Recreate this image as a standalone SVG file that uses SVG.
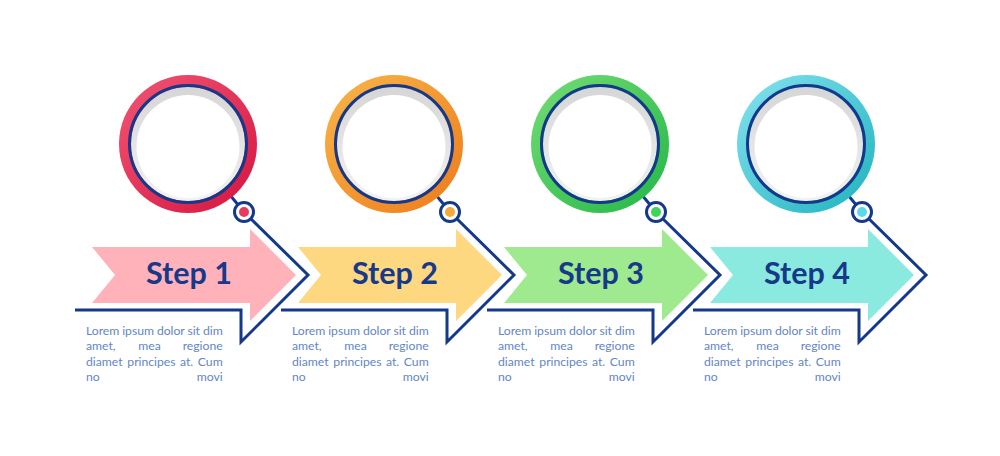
<svg xmlns="http://www.w3.org/2000/svg" xmlns:xlink="http://www.w3.org/1999/xlink" width="1000" height="456" viewBox="0 0 1000 456">
<style>
.navy{fill:none;stroke:#14398b;stroke-width:3;stroke-linejoin:miter;stroke-linecap:butt}
.bluering{stroke:#14398b;stroke-width:3}
.knob{fill:#ffffff;stroke:#14398b;stroke-width:3}
.step{font-family:Lato,"Liberation Sans",sans-serif;font-weight:700;font-size:30.5px;fill:#17398a;text-anchor:middle}
.body{font-family:Lato,"Liberation Sans",sans-serif;font-size:12.2px;fill:#6485c6}
.e{text-anchor:end}
</style>
<defs>
<linearGradient id="gRed" x1="0" y1="0" x2="1" y2="1"><stop offset="0" stop-color="#f25574"/><stop offset="1" stop-color="#d5143f"/></linearGradient>
<linearGradient id="gOrange" x1="0" y1="0" x2="1" y2="1"><stop offset="0" stop-color="#f8b648"/><stop offset="1" stop-color="#ee7a1b"/></linearGradient>
<linearGradient id="gGreen" x1="0" y1="0" x2="1" y2="1"><stop offset="0" stop-color="#74dd74"/><stop offset="1" stop-color="#23b647"/></linearGradient>
<linearGradient id="gTeal" x1="0" y1="0" x2="1" y2="1"><stop offset="0" stop-color="#86e3f0"/><stop offset="1" stop-color="#1eb2bd"/></linearGradient>
<linearGradient id="gGrey" x1="0" y1="0" x2="0" y2="1"><stop offset="0" stop-color="#d6d6d6"/><stop offset="1" stop-color="#f2f2f2"/></linearGradient>
<g id="lens">
<circle cx="188" cy="144" r="57" fill="url(#gGrey)"/>
<circle cx="188" cy="146.5" r="51.5" fill="#ffffff"/>
<circle cx="188" cy="144" r="58.5" fill="none" class="bluering"/>
</g>
<polygon id="arrow" points="92,247 250,247 250,229 296,275 250,321 250,303 92,303 115,275"/>
</defs>
<rect width="1000" height="456" fill="#ffffff"/>
<g id="connectors">
<g id="c1"><polyline class="navy" points="75,310 241,310 241,342 308,275 244,212 220,183"/></g>
<g id="c2" transform="translate(206,0)"><polyline class="navy" points="75,310 241,310 241,342 308,275 244,212 220,183"/></g>
<g id="c3" transform="translate(412,0)"><polyline class="navy" points="75,310 241,310 241,342 308,275 244,212 220,183"/></g>
<g id="c4" transform="translate(618,0)"><polyline class="navy" points="75,310 241,310 241,342 308,275 244,212 220,183"/></g>
</g>
<g id="step1">
<circle cx="188" cy="144" r="69" fill="url(#gRed)"/>
<use xlink:href="#lens"/>
<circle class="knob" cx="244" cy="212" r="9.5"/><circle cx="244" cy="212" r="5" fill="#e83a5e"/>
<use xlink:href="#arrow" fill="#ffb2ba"/>
<text class="step" x="189" y="284">Step 1</text>
<text class="body" x="86" y="335" textLength="136.7" lengthAdjust="spacing">Lorem ipsum dolor sit dim</text>
<text class="body"><tspan x="86" y="350.3">amet,</tspan><tspan x="138.3">mea</tspan><tspan x="222.7" class="e">regione</tspan></text>
<text class="body"><tspan x="86" y="365.7">diamet</tspan><tspan x="127.3">principes</tspan><tspan x="180">at.</tspan><tspan x="222.7" class="e">Cum</tspan></text>
<text class="body"><tspan x="86" y="381">no</tspan><tspan x="222.7" class="e">movi</tspan></text>
</g>
<g id="step2" transform="translate(206,0)">
<circle cx="188" cy="144" r="69" fill="url(#gOrange)"/>
<use xlink:href="#lens"/>
<circle class="knob" cx="244" cy="212" r="9.5"/><circle cx="244" cy="212" r="5" fill="#f5a83c"/>
<use xlink:href="#arrow" fill="#fdd880"/>
<text class="step" x="189" y="284">Step 2</text>
<text class="body" x="86" y="335" textLength="136.7" lengthAdjust="spacing">Lorem ipsum dolor sit dim</text>
<text class="body"><tspan x="86" y="350.3">amet,</tspan><tspan x="138.3">mea</tspan><tspan x="222.7" class="e">regione</tspan></text>
<text class="body"><tspan x="86" y="365.7">diamet</tspan><tspan x="127.3">principes</tspan><tspan x="180">at.</tspan><tspan x="222.7" class="e">Cum</tspan></text>
<text class="body"><tspan x="86" y="381">no</tspan><tspan x="222.7" class="e">movi</tspan></text>
</g>
<g id="step3" transform="translate(412,0)">
<circle cx="188" cy="144" r="69" fill="url(#gGreen)"/>
<use xlink:href="#lens"/>
<circle class="knob" cx="244" cy="212" r="9.5"/><circle cx="244" cy="212" r="5" fill="#3fd35a"/>
<use xlink:href="#arrow" fill="#9fe98e"/>
<text class="step" x="189" y="284">Step 3</text>
<text class="body" x="86" y="335" textLength="136.7" lengthAdjust="spacing">Lorem ipsum dolor sit dim</text>
<text class="body"><tspan x="86" y="350.3">amet,</tspan><tspan x="138.3">mea</tspan><tspan x="222.7" class="e">regione</tspan></text>
<text class="body"><tspan x="86" y="365.7">diamet</tspan><tspan x="127.3">principes</tspan><tspan x="180">at.</tspan><tspan x="222.7" class="e">Cum</tspan></text>
<text class="body"><tspan x="86" y="381">no</tspan><tspan x="222.7" class="e">movi</tspan></text>
</g>
<g id="step4" transform="translate(618,0)">
<circle cx="188" cy="144" r="69" fill="url(#gTeal)"/>
<use xlink:href="#lens"/>
<circle class="knob" cx="244" cy="212" r="9.5"/><circle cx="244" cy="212" r="5" fill="#5cd8e8"/>
<use xlink:href="#arrow" fill="#8aeadf"/>
<text class="step" x="189" y="284">Step 4</text>
<text class="body" x="86" y="335" textLength="136.7" lengthAdjust="spacing">Lorem ipsum dolor sit dim</text>
<text class="body"><tspan x="86" y="350.3">amet,</tspan><tspan x="138.3">mea</tspan><tspan x="222.7" class="e">regione</tspan></text>
<text class="body"><tspan x="86" y="365.7">diamet</tspan><tspan x="127.3">principes</tspan><tspan x="180">at.</tspan><tspan x="222.7" class="e">Cum</tspan></text>
<text class="body"><tspan x="86" y="381">no</tspan><tspan x="222.7" class="e">movi</tspan></text>
</g>
</svg>
